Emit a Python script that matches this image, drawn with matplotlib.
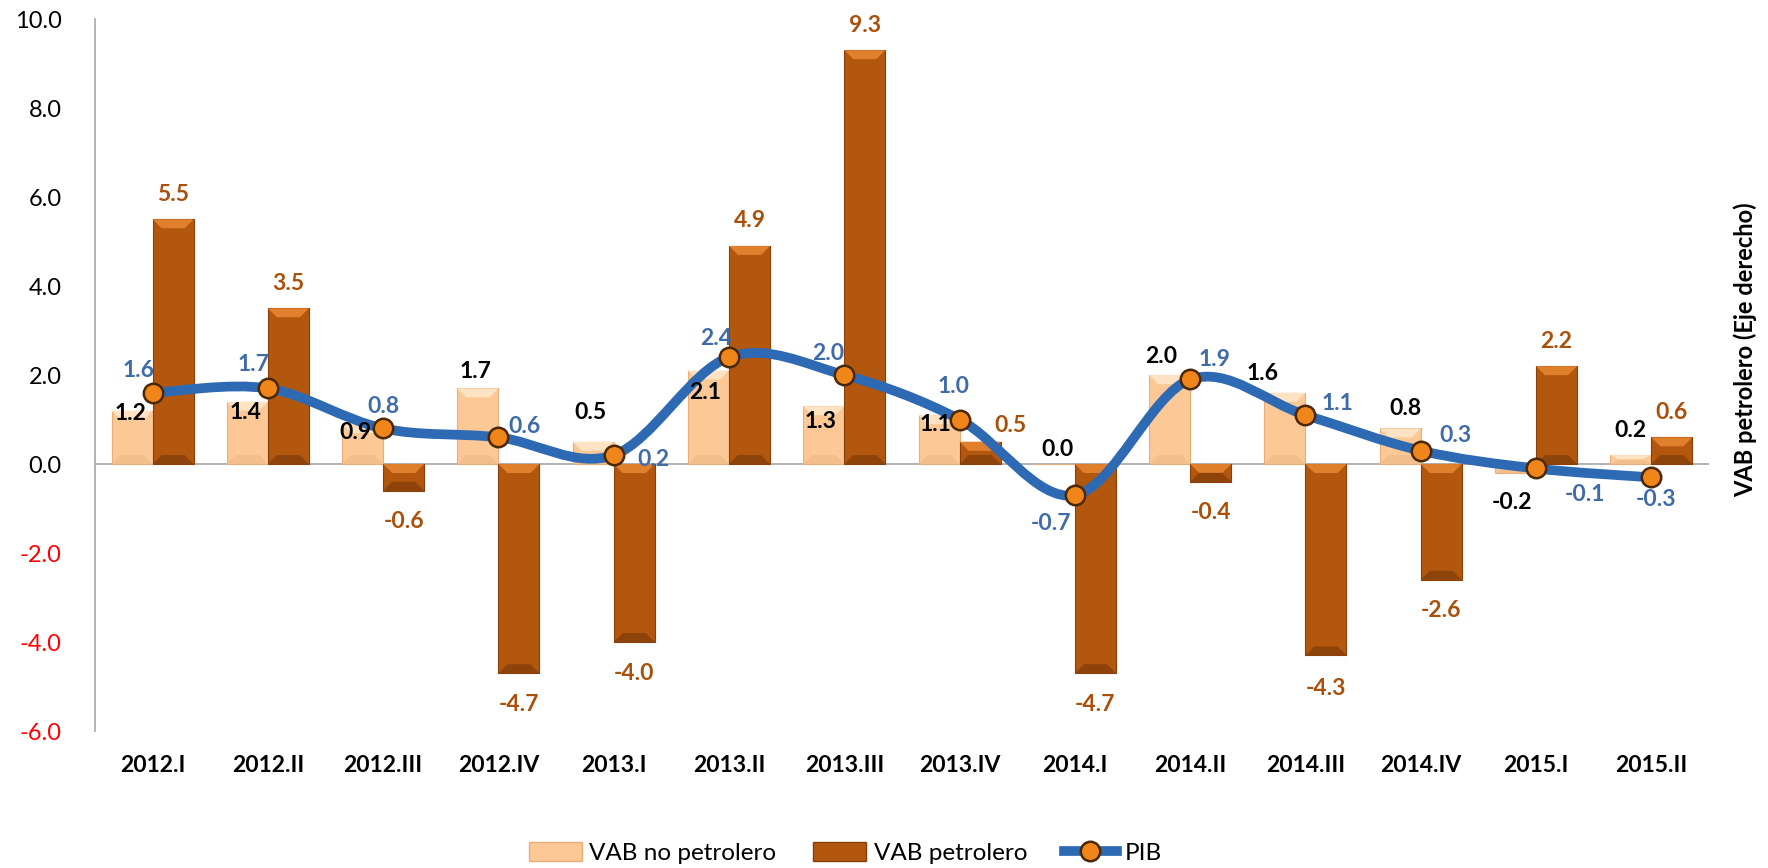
import matplotlib

matplotlib.use("Agg")

import matplotlib.pyplot as plt
import numpy as np
from matplotlib.lines import Line2D
from matplotlib.patches import Patch, Polygon
from matplotlib.path import Path
from matplotlib.patches import PathPatch

plt.rcParams["font.family"] = ["Lato", "DejaVu Sans"]

quarters = ["2012.I", "2012.II", "2012.III", "2012.IV", "2013.I", "2013.II", "2013.III",
            "2013.IV", "2014.I", "2014.II", "2014.III", "2014.IV", "2015.I", "2015.II"]
vab_no_petrolero = [1.2, 1.4, 0.9, 1.7, 0.5, 2.1, 1.3, 1.1, 0.0, 2.0, 1.6, 0.8, -0.2, 0.2]
vab_petrolero = [5.5, 3.5, -0.6, -4.7, -4.0, 4.9, 9.3, 0.5, -4.7, -0.4, -4.3, -2.6, 2.2, 0.6]
pib = [1.6, 1.7, 0.8, 0.6, 0.2, 2.4, 2.0, 1.0, -0.7, 1.9, 1.1, 0.3, -0.1, -0.3]
y_ticks = [-6.0, -4.0, -2.0, 0.0, 2.0, 4.0, 6.0, 8.0, 10.0]

LIGHT = "#FCC896"
LIGHT_EDGE = "#E9AE78"
DARK = "#B3570F"
DARK_EDGE = "#8A3F08"
BLUE = "#2E69B3"
BLUE_TXT = "#3F6CA8"
BROWN_TXT = "#A9510C"

# label offsets in pixels (dx, dy), hand placed like the original
off_light = [(-2, -3), (-2, -11), (-7, -9), (-2, 17), (-3, 29), (-3, -22), (-3, -15),
             (-4, -9), (3, 15), (-8, 19), (-22, 19), (5, 20), (-3, -30), (0, 25)]
off_pib = [(-14, 22), (-14, 24), (0, 22), (26, 11), (40, -4), (-13, 19), (-16, 22),
           (-6, 33), (-24, -28), (24, 20), (32, 12), (35, 15), (49, -26), (5, -22)]


def bevel(ax, bar, light_col, dark_col, depth_px=9):
    # fake excel bevel: light trapezoid on top, darker one at the bottom
    x0, w = bar.get_x(), bar.get_width()
    y0, h = bar.get_y(), bar.get_height()
    lo, hi = min(y0, y0 + h), max(y0, y0 + h)
    inv = ax.transData.inverted()
    px_y = inv.transform((0, depth_px))[1] - inv.transform((0, 0))[1]
    px_x = inv.transform((depth_px, 0))[0] - inv.transform((0, 0))[0]
    d = min(px_y, (hi - lo) / 2)
    dx = min(px_x, w / 2)
    ax.add_patch(Polygon([(x0, hi), (x0 + w, hi), (x0 + w - dx, hi - d), (x0 + dx, hi - d)],
                         closed=True, facecolor=light_col, edgecolor="none", zorder=2.1))
    ax.add_patch(Polygon([(x0, lo), (x0 + w, lo), (x0 + w - dx, lo + d), (x0 + dx, lo + d)],
                         closed=True, facecolor=dark_col, edgecolor="none", zorder=2.1))


def smooth_path(xs, ys):
    pts = np.column_stack([xs, ys]).astype(float)
    ext = np.vstack([pts[0], pts, pts[-1]])
    verts = [tuple(pts[0])]
    codes = [Path.MOVETO]
    for i in range(1, len(ext) - 2):
        p0, p1, p2, p3 = ext[i - 1], ext[i], ext[i + 1], ext[i + 2]
        c1 = p1 + (p2 - p0) / 6.0
        c2 = p2 - (p3 - p1) / 6.0
        verts += [tuple(c1), tuple(c2), tuple(p2)]
        codes += [Path.CURVE4] * 3
    return Path(verts, codes)


fig = plt.figure(figsize=(17.68, 8.68), dpi=100)
ax = fig.add_axes([0.0537, 0.1578, 0.9129, 0.8203])

x = np.arange(len(quarters))
w = 0.356
bars_light = ax.bar(x - w / 2, vab_no_petrolero, w, color=LIGHT, edgecolor=LIGHT_EDGE,
                    linewidth=0.8, zorder=2)
bars_dark = ax.bar(x + w / 2, vab_petrolero, w, color=DARK, edgecolor=DARK_EDGE,
                   linewidth=0.8, zorder=2)

ax.set_xlim(-0.5, len(quarters) - 0.5)
ax.set_ylim(-6, 10)

for b in bars_light:
    bevel(ax, b, "#FFE3C2", "#F2BE8C")
for b in bars_dark:
    bevel(ax, b, "#E07F2C", "#8E430B")

ax.axhline(0, color="#A6A6A6", linewidth=1.2, zorder=1.5)

ax.add_patch(PathPatch(smooth_path(x, pib), facecolor="none", edgecolor=BLUE,
                       linewidth=7, capstyle="round", zorder=3))
ax.plot(x, pib, linestyle="none", marker="o", markersize=14, markerfacecolor="#F0861A",
        markeredgecolor="#4A2705", markeredgewidth=1.8, zorder=4)

for i, b in enumerate(bars_light):
    v = vab_no_petrolero[i]
    ax.annotate(f"{v:.1f}", (b.get_x() + b.get_width() / 2, v), xytext=off_light[i],
                textcoords="offset pixels", ha="center", va="center",
                fontsize=16.5, fontweight="bold", color="black", zorder=5)

for i, b in enumerate(bars_dark):
    v = vab_petrolero[i]
    dy = 25 if v >= 0 else -31
    dx = 0
    if i == 7:
        dx, dy = 30, 16
    if i == 10:
        dy = -33
    ax.annotate(f"{v:.1f}", (b.get_x() + b.get_width() / 2, v), xytext=(dx, dy),
                textcoords="offset pixels", ha="center", va="center",
                fontsize=16.5, fontweight="bold", color=BROWN_TXT, zorder=5)

for i, v in enumerate(pib):
    ax.annotate(f"{v:.1f}", (x[i], v), xytext=off_pib[i], textcoords="offset pixels",
                ha="center", va="center", fontsize=16.5, fontweight="bold", color=BLUE_TXT,
                zorder=5)

ax.set_yticks(y_ticks)
ax.set_yticklabels([f"{t:.1f}" for t in y_ticks], fontsize=17)
for lab, t in zip(ax.get_yticklabels(), y_ticks):
    lab.set_color("#FF0000" if t < 0 else "black")
ax.tick_params(axis="y", length=0, pad=24)
ax.set_xticks(x)
ax.set_xticklabels(quarters, fontsize=16.5, fontweight="bold")
ax.tick_params(axis="x", length=0, pad=17)

for side in ["top", "right", "bottom"]:
    ax.spines[side].set_visible(False)
ax.spines["left"].set_color("#A6A6A6")
ax.spines["left"].set_linewidth(1.2)

fig.text(0.987, 0.597, "VAB petrolero (Eje derecho)", rotation=90, ha="center", va="center",
         fontsize=17, fontweight="bold")

handles = [
    Patch(facecolor=LIGHT, edgecolor=LIGHT_EDGE),
    Patch(facecolor=DARK, edgecolor=DARK_EDGE),
    Line2D([], [], color=BLUE, linewidth=7, marker="o", markersize=14,
           markerfacecolor="#F0861A", markeredgecolor="#4A2705", markeredgewidth=1.8),
]
fig.legend(handles, ["VAB no petrolero", "VAB petrolero", "PIB"], loc="center",
           bbox_to_anchor=(0.478, 0.017), ncol=3, frameon=False, fontsize=17.5,
           handlelength=2.2, handleheight=0.8, columnspacing=1.5, handletextpad=0.3)

fig.savefig("out.png", dpi=100)
